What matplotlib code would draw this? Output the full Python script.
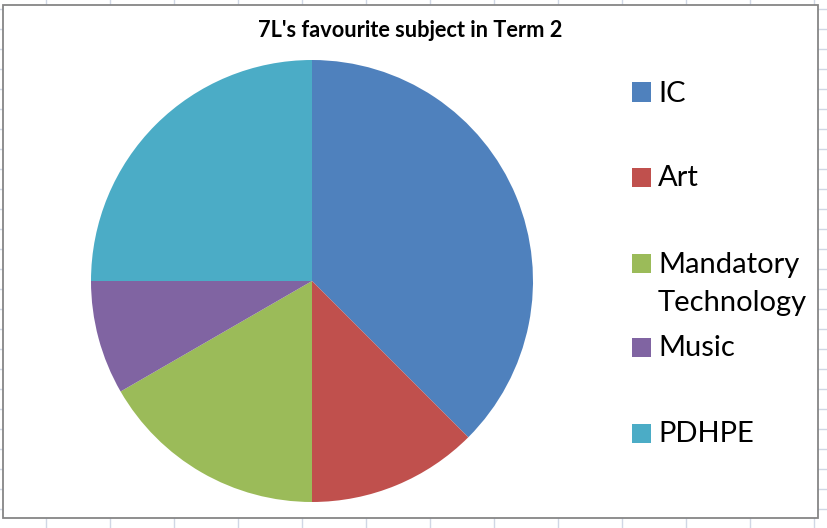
"""7L's favourite subject in Term 2 - pie chart in an Excel-style sheet."""
import numpy as np
import matplotlib
matplotlib.use("Agg")
import matplotlib.pyplot as plt
from matplotlib.lines import Line2D
from matplotlib.patches import Rectangle

subjects = ["IC", "Art", "Mandatory\nTechnology", "Music", "PDHPE"]
votes = [9, 3, 4, 2, 6]
colors = ["#4F81BD", "#C0504D", "#9BBB59", "#8064A2", "#4BACC6"]
title = "7L's favourite subject in Term 2"

W, H = 828, 528
plt.rcParams["font.family"] = ["Lato", "DejaVu Sans"]
fig = plt.figure(figsize=(W / 100, H / 100), dpi=100)

# spreadsheet cell grid behind the chart object
for x in np.arange(46, W, 64):
    fig.add_artist(Line2D([x / W] * 2, [0, 1], color="#D0D7E5", lw=1, zorder=-3))
for y in np.arange(9, H, 20):
    fig.add_artist(Line2D([0, 1], [1 - y / H] * 2, color="#D0D7E5", lw=1, zorder=-3))

# chart area
fig.add_artist(Rectangle((3 / W, 1 - 518 / H), 815 / W, 513 / H,
                         facecolor="white", edgecolor="#868686", lw=1.3, zorder=-2))

cx, cy, r = 312, 281, 221
ax = fig.add_axes([(cx - r) / W, 1 - (cy + r) / H, 2 * r / W, 2 * r / H])
ax.pie(votes, colors=colors, startangle=90, counterclock=False, radius=1,
       wedgeprops=dict(linewidth=0))
ax.set_xlim(-1, 1); ax.set_ylim(-1, 1)
ax.set_aspect("equal")
ax.axis("off")

fig.text(410 / W, 1 - 37 / H, title, ha="center", va="baseline",
         fontsize=15.7, fontweight="bold")

# legend, Excel style: square beside the first line of each label
row_y = [92, 177, 263, 347, 433]
for label, c, y in zip(subjects, colors, row_y):
    fig.add_artist(Rectangle((632 / W, 1 - (y + 9.5) / H), 19 / W, 19 / H,
                             facecolor=c, edgecolor="none"))
    for i, line in enumerate(label.split("\n")):
        fig.text(658 / W, 1 - (y + 9.5 + 39 * i) / H, line, ha="left", va="baseline",
                 fontsize=21)

fig.savefig("out.png", dpi=100)
print("saved out.png")
